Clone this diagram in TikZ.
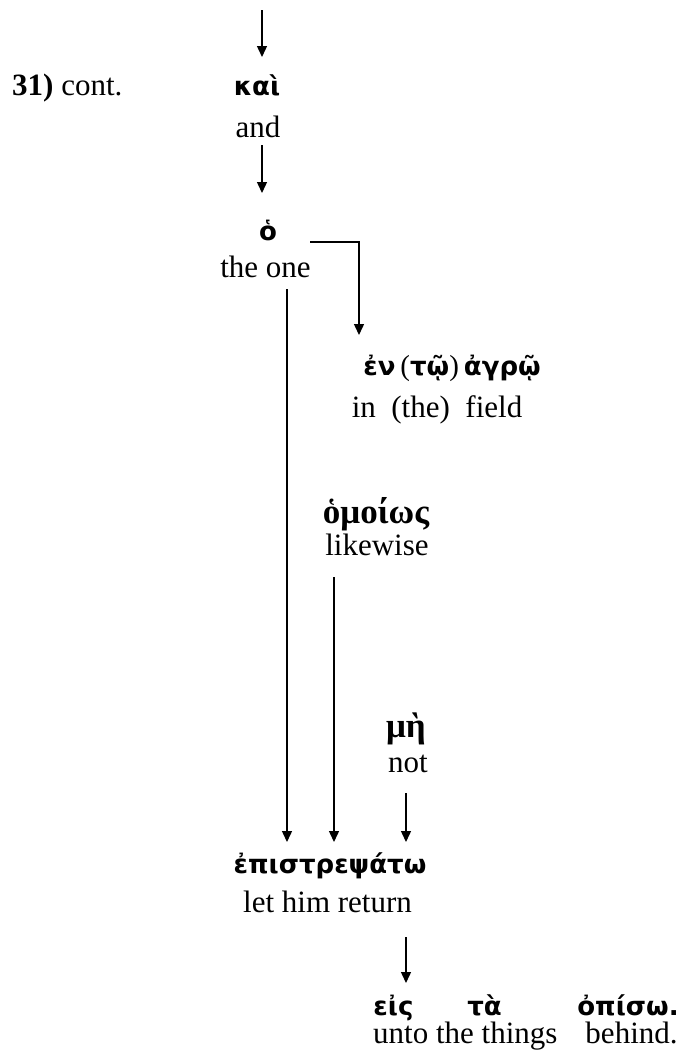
\documentclass[tikz,border=0pt]{standalone}
\usepackage{fontspec}
\setmainfont{Liberation Serif}
\newfontfamily\gks{DejaVu Sans}
\newfontfamily\gkr{Liberation Serif}
\usetikzlibrary{arrows.meta}
\newcommand{\gparen}[1]{{\gkr\mdseries\fontsize{29}{34}\selectfont #1}}
\begin{document}
\begin{tikzpicture}[x=1pt,y=1pt,
  en/.style={font=\fontsize{31}{36}\selectfont, anchor=base, inner sep=0pt},
  gs/.style={font=\fontsize{26}{30}\selectfont\gks\bfseries, anchor=base, inner sep=0pt},
  gr/.style={font=\fontsize{35}{40}\selectfont\gkr\bfseries, anchor=base, inner sep=0pt},
  arr/.style={line width=1.4pt, -{Triangle[length=11pt,width=10pt]}}]
\useasboundingbox (0,0) rectangle (684,-1063);
% nodes
\node[en, anchor=base west] (num) at (12,-95) {\textbf{31)} cont.};
\node[gs] (kai) at (257,-95) {καὶ};
\node[en] (and) at (258,-137) {and};
\node[gs] (o) at (268,-240) {ὁ};
\node[en] (theone) at (265.5,-277) {the one};
\node[gs] (en1) at (452,-375) {ἐν\hspace{5pt}\gparen{(}τῷ\gparen{)}\hspace{5pt}ἀγρῷ};
\node[en] (field) at (437,-417) {in~~(the)~~field};
\node[gr] (homoios) at (376,-523) {ὁμοίως};
\node[en] (likewise) at (377,-555) {likewise};
\node[gr] (me) at (406,-737) {μὴ};
\node[en] (not) at (408,-772) {not};
\node[gs] (epi) at (330,-873) {ἐπιστρεψάτω};
\node[en] (return) at (327.5,-912) {let him return};
\node[gs] (eis) at (393.5,-1015) {εἰς};
\node[gs] (ta) at (484.5,-1015) {τὰ};
\node[gs] (opiso) at (628,-1015) {ὀπίσω.};
\node[en, anchor=base west] (unto) at (373,-1043) {unto the things\hspace{28pt}behind.};
% connectors
\coordinate (top) at (262,-10);
\draw[arr] (top) -- ([xshift=5pt,yshift=38pt]kai.base);
\draw[arr] ([xshift=4pt,yshift=-8pt]and.base) -- ([xshift=-6pt,yshift=47pt]o.base);
\draw[arr] ([xshift=42pt,yshift=-2pt]o.base) -| ([xshift=-93pt,yshift=40pt]en1.base);
\draw[arr] ([xshift=21.5pt,yshift=-12pt]theone.base) -- ([xshift=-43pt,yshift=31pt]epi.base);
\draw[arr] ([xshift=-43pt,yshift=-22pt]likewise.base) -- ([xshift=4pt,yshift=31pt]epi.base);
\draw[arr] ([xshift=-2pt,yshift=-21pt]not.base) -- ([xshift=76pt,yshift=31pt]epi.base);
\draw[arr] ([xshift=78.5pt,yshift=-25pt]return.base) -- ([xshift=12.5pt,yshift=32pt]eis.base);
\end{tikzpicture}
\end{document}
